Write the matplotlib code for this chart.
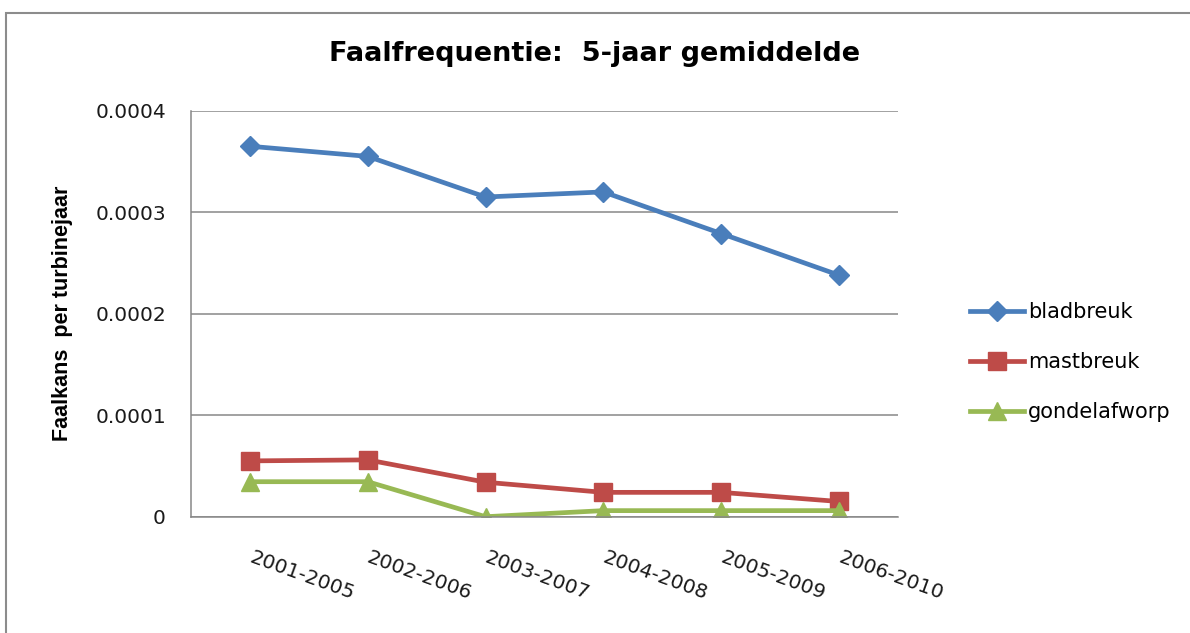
import matplotlib.pyplot as plt
from matplotlib.patches import Rectangle

# 5-year moving averages, failure rate per turbine-year
periods = ['2001-2005', '2002-2006', '2003-2007', '2004-2008', '2005-2009', '2006-2010']
bladbreuk = [0.000365, 0.000355, 0.000315, 0.000320, 0.000279, 0.000238]
mastbreuk = [0.000055, 0.000056, 0.000034, 0.000024, 0.000024, 0.000015]
gondelafworp = [0.0000345, 0.0000345, 0.0, 0.000006, 0.000006, 0.000006]

yticks = [0, 0.0001, 0.0002, 0.0003, 0.0004]
ytick_labels = ['0', '0.0001', '0.0002', '0.0003', '0.0004']

plt.rcParams['font.family'] = ['DejaVu Sans']

fig = plt.figure(figsize=(11.9, 6.33), dpi=100)
ax = fig.add_axes([0.1605, 0.1837, 0.594, 0.6414])

# outer chart border
fig.patches.append(Rectangle((0.005, -0.1), 1.2, 0.98 + 0.1, transform=fig.transFigure,
                             fill=False, edgecolor='#8c8c8c', linewidth=1.5))

x = list(range(len(periods)))
ax.plot(x, bladbreuk, color='#4A7EBB', linewidth=3.4, marker='D', markersize=10, label='bladbreuk')
ax.plot(x, mastbreuk, color='#BE4B48', linewidth=3.4, marker='s', markersize=13, label='mastbreuk')
ax.plot(x, gondelafworp, color='#98B954', linewidth=3.4, marker='^', markersize=13, label='gondelafworp')

ax.set_xlim(-0.5, len(periods) - 0.5)
ax.set_ylim(0, 0.0004)
ax.set_yticks(yticks)
ax.set_yticklabels(ytick_labels, fontsize=14.5, color='#1a1a1a')
ax.yaxis.grid(True, color='#878787', linewidth=1.1)
ax.set_axisbelow(True)
ax.tick_params(axis='y', length=0, pad=18)
ax.tick_params(axis='x', length=0, pad=29)

ax.set_xticks(x)
ax.set_xticklabels(periods, rotation=-20, ha='left', va='center', rotation_mode='anchor',
                   fontsize=14.5, color='#1a1a1a')

for side in ['top', 'right']:
    ax.spines[side].set_visible(False)
for side in ['left', 'bottom']:
    ax.spines[side].set_color('#878787')
    ax.spines[side].set_linewidth(1.1)

ax.set_ylabel('Faalkans  per turbinejaar', fontsize=15.5, fontweight='bold', labelpad=16,
              family=['Liberation Sans', 'DejaVu Sans'])

fig.text(0.5, 0.915, 'Faalfrequentie:  5-jaar gemiddelde', ha='center', va='center',
         fontsize=19.5, fontweight='bold')

ax.legend(loc='center left', bbox_to_anchor=(1.075, 0.381), frameon=False, fontsize=15,
          handlelength=2.6, labelspacing=1.45, handletextpad=0.2)

fig.savefig('out.png', dpi=100)
